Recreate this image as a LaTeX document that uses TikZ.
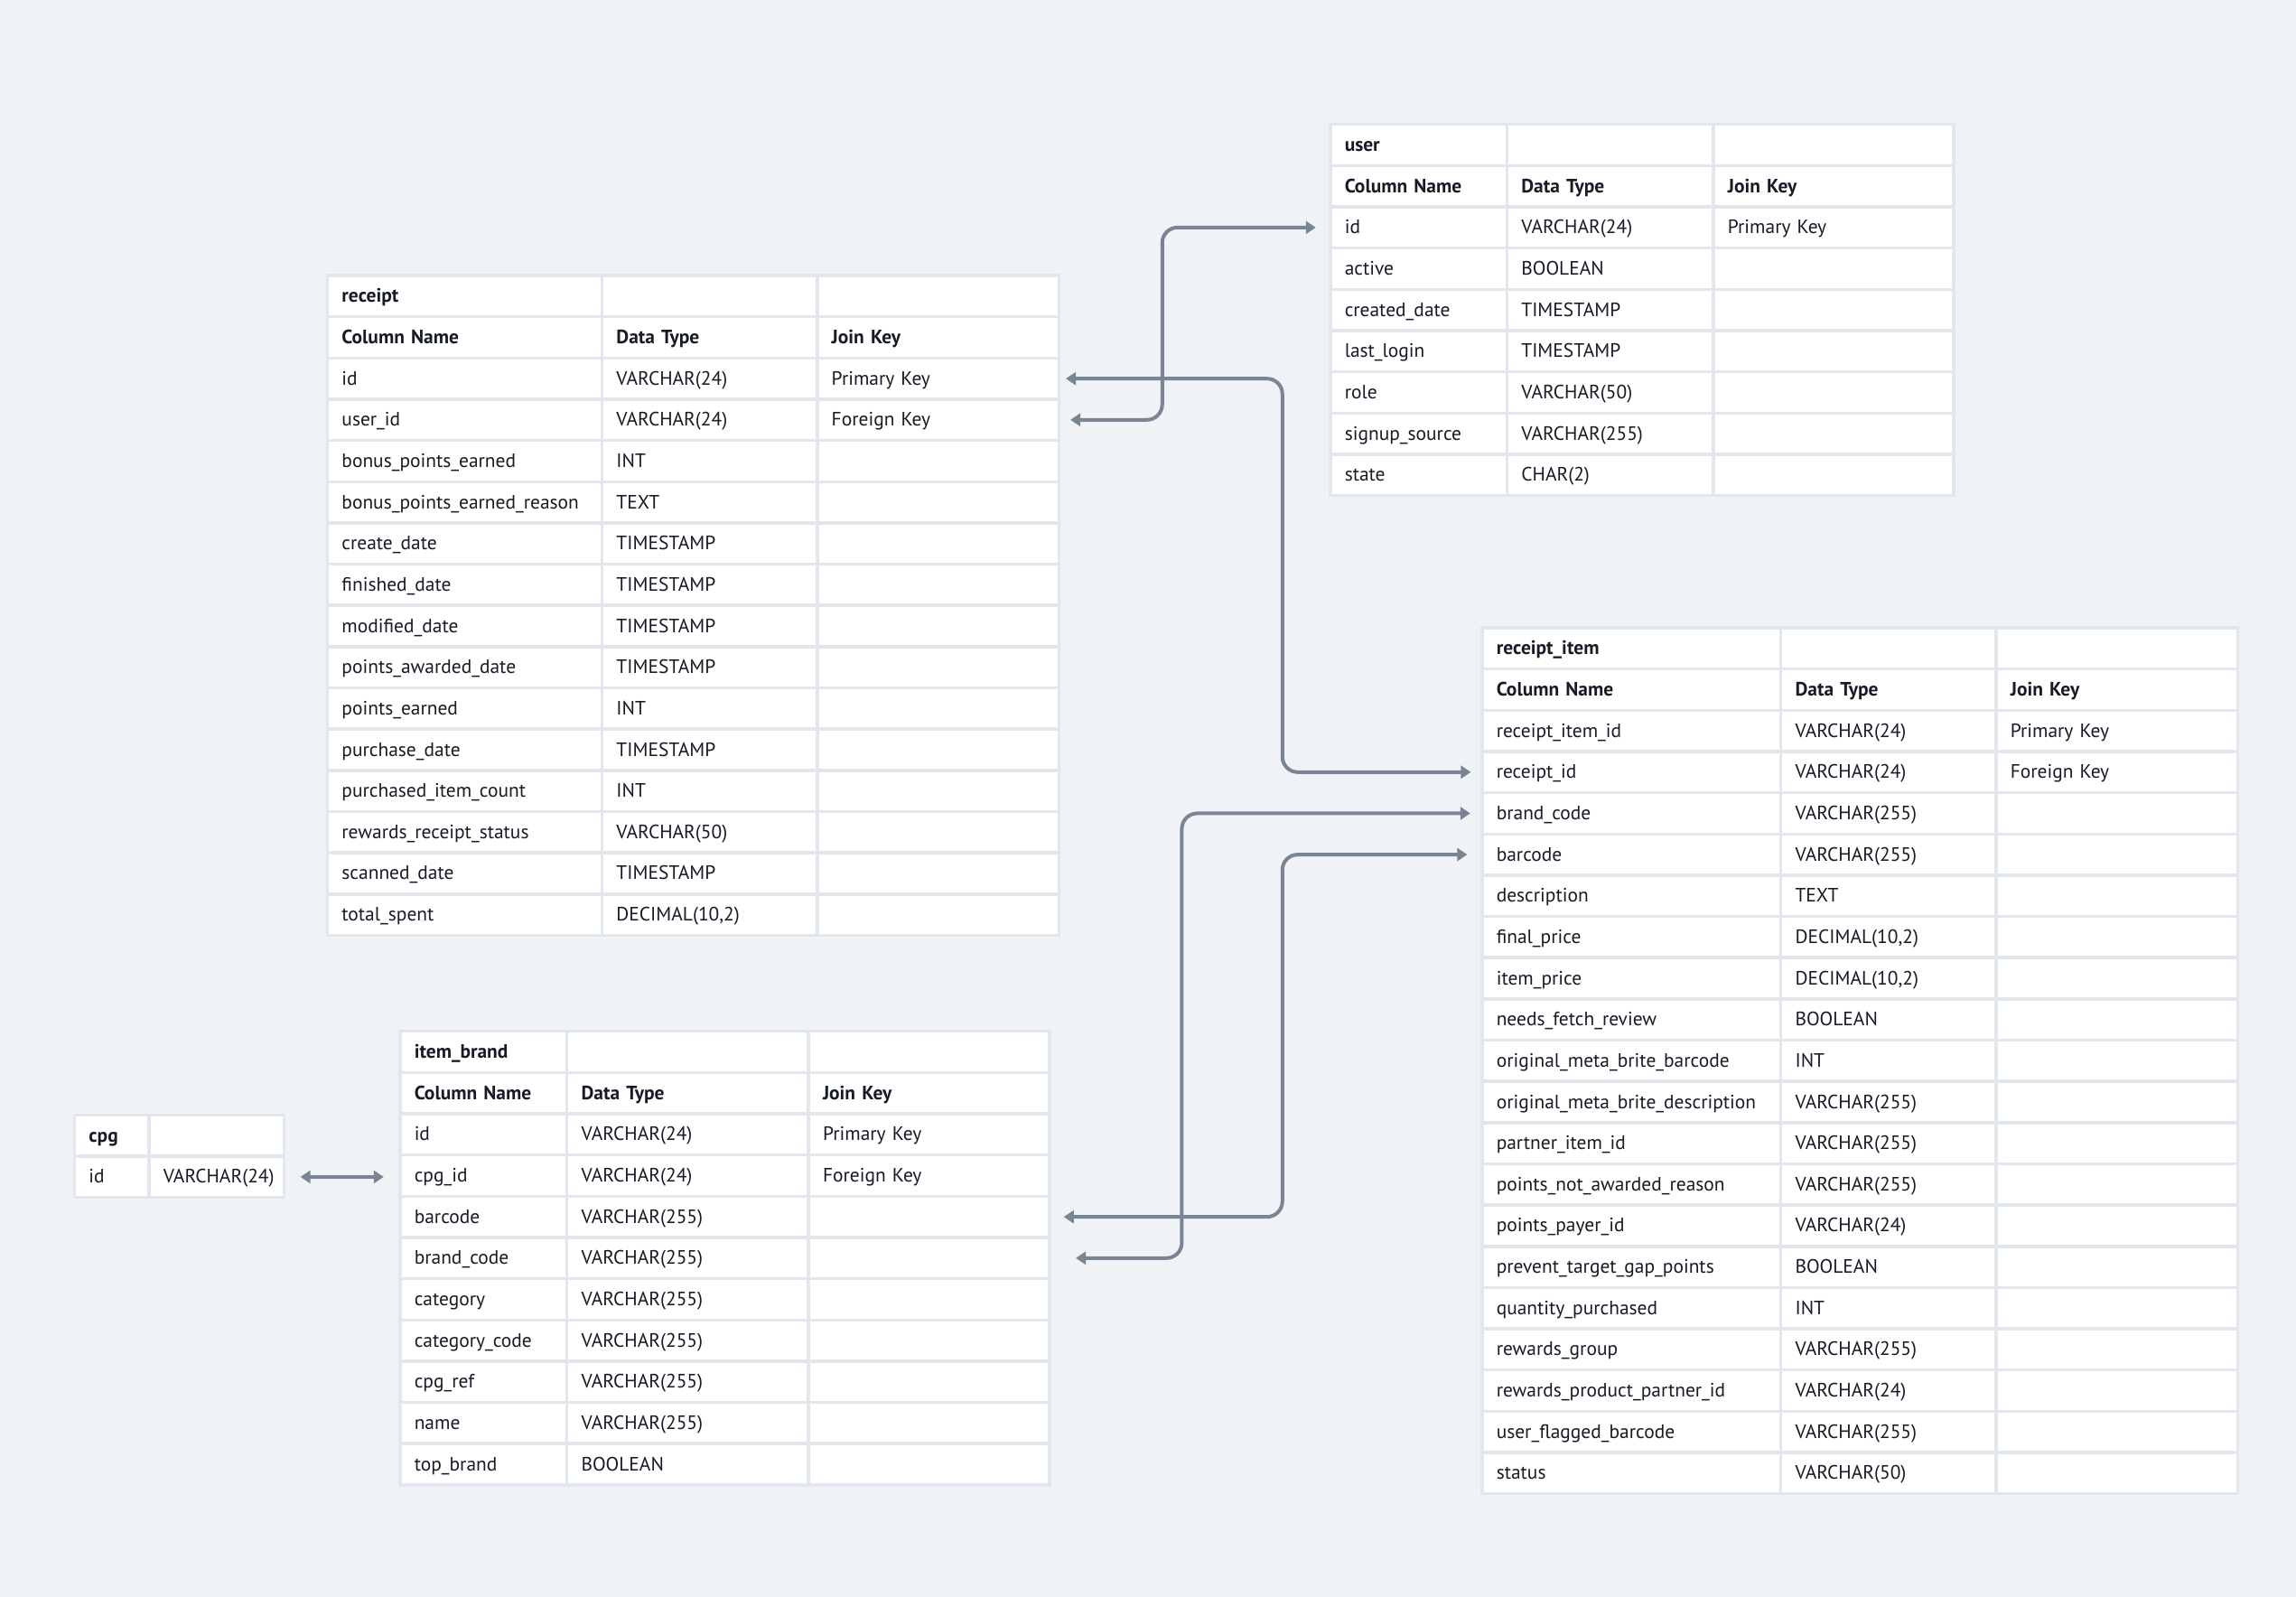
\documentclass[tikz,border=0pt]{standalone}
\usepackage{fontspec}
\setmainfont{PT Sans}
\usetikzlibrary{arrows.meta,matrix,calc}
\definecolor{canvas}{HTML}{F0F3F6}
\definecolor{grid}{HTML}{E2E7EE}
\definecolor{wire}{HTML}{7A8594}
\definecolor{ink}{HTML}{161B26}
\tikzset{
  cell/.style={
    draw=grid, line width=0.035cm, fill=white, text=ink, align=left,
    inner xsep=0.16cm, inner ysep=0pt, outer sep=0pt,
    minimum height=0.4565cm, text height=0.19cm, text depth=0.05cm,
    font=\fontsize{6.1}{7}\selectfont
  },
  head/.style={font=\fontsize{6.1}{7}\selectfont\bfseries},
  tbl/.style={
    matrix of nodes, nodes in empty cells, anchor=north west,
    inner sep=0pt, outer sep=0pt, row sep=-0.035cm, column sep=-0.035cm,
    nodes={cell}, row 1/.style={nodes={head}}, row 2/.style={nodes={head}}
  },
  widths/.style n args={3}{
    column 1/.style={nodes={text width=#1}},
    column 2/.style={nodes={text width=#2}},
    column 3/.style={nodes={text width=#3}}
  },
  link/.style={{Triangle[length=0.11cm,width=0.14cm]}-{Triangle[length=0.11cm,width=0.14cm]},
    line width=0.04cm, wire, rounded corners=0.17cm},
}
\begin{document}
\begin{tikzpicture}
  \path[use as bounding box, fill=canvas] (0,0) rectangle (25.42,-17.68);

  % tables
  \matrix (user) [tbl, widths={1.636cm}{1.966cm}{2.338cm}] at (14.71,-1.36) {
    user & & \\
    Column Name & Data Type & Join Key \\
    id & VARCHAR(24) & Primary Key \\
    active & BOOLEAN & \\
    created\_date & TIMESTAMP & \\
    last\_login & TIMESTAMP & \\
    role & VARCHAR(50) & \\
    signup\_source & VARCHAR(255) & \\
    state & CHAR(2) & \\
  };

  \matrix (receipt) [tbl, widths={2.72cm}{2.063cm}{2.357cm}] at (3.607,-3.033) {
    receipt & & \\
    Column Name & Data Type & Join Key \\
    id & VARCHAR(24) & Primary Key \\
    user\_id & VARCHAR(24) & Foreign Key \\
    bonus\_points\_earned & INT & \\
    bonus\_points\_earned\_reason & TEXT & \\
    create\_date & TIMESTAMP & \\
    finished\_date & TIMESTAMP & \\
    modified\_date & TIMESTAMP & \\
    points\_awarded\_date & TIMESTAMP & \\
    points\_earned & INT & \\
    purchase\_date & TIMESTAMP & \\
    purchased\_item\_count & INT & \\
    rewards\_receipt\_status & VARCHAR(50) & \\
    scanned\_date & TIMESTAMP & \\
    total\_spent & DECIMAL(10,2) & \\
  };

  \matrix (ritem) [tbl, widths={2.988cm}{2.063cm}{2.355cm}] at (16.39,-6.933) {
    receipt\_item & & \\
    Column Name & Data Type & Join Key \\
    receipt\_item\_id & VARCHAR(24) & Primary Key \\
    receipt\_id & VARCHAR(24) & Foreign Key \\
    brand\_code & VARCHAR(255) & \\
    barcode & VARCHAR(255) & \\
    description & TEXT & \\
    final\_price & DECIMAL(10,2) & \\
    item\_price & DECIMAL(10,2) & \\
    needs\_fetch\_review & BOOLEAN & \\
    original\_meta\_brite\_barcode & INT & \\
    original\_meta\_brite\_description & VARCHAR(255) & \\
    partner\_item\_id & VARCHAR(255) & \\
    points\_not\_awarded\_reason & VARCHAR(255) & \\
    points\_payer\_id & VARCHAR(24) & \\
    prevent\_target\_gap\_points & BOOLEAN & \\
    quantity\_purchased & INT & \\
    rewards\_group & VARCHAR(255) & \\
    rewards\_product\_partner\_id & VARCHAR(24) & \\
    user\_flagged\_barcode & VARCHAR(255) & \\
    status & VARCHAR(50) & \\
  };

  \matrix (brand) [tbl, widths={1.528cm}{2.355cm}{2.347cm}] at (4.41,-11.40) {
    item\_brand & & \\
    Column Name & Data Type & Join Key \\
    id & VARCHAR(24) & Primary Key \\
    cpg\_id & VARCHAR(24) & Foreign Key \\
    barcode & VARCHAR(255) & \\
    brand\_code & VARCHAR(255) & \\
    category & VARCHAR(255) & \\
    category\_code & VARCHAR(255) & \\
    cpg\_ref & VARCHAR(255) & \\
    name & VARCHAR(255) & \\
    top\_brand & BOOLEAN & \\
  };

  \matrix (cpg) [tbl, row 2/.style={}, widths={0.503cm}{1.179cm}{1cm}] at (0.807,-12.327) {
    cpg & \\
    id & VARCHAR(24) \\
  };

  % joins
  \draw[link] ([xshift=0.126cm]receipt-4-3.east) -- ++(1.017,0) |- ([xshift=-0.16cm]user-3-1.west);
  \draw[link] ([xshift=0.076cm]receipt-3-3.east) -- ++(2.397,0) |- ([xshift=-0.123cm]ritem-4-1.west);
  \draw[link] ([xshift=0.293cm]brand-6-3.east) -- ++(1.174,0) |- ([xshift=-0.13cm]ritem-5-1.west);
  \draw[link] ([xshift=0.16cm]brand-5-3.east) -- ++(2.42,0) |- ([xshift=-0.163cm]ritem-6-1.west);
  \draw[link] ([xshift=0.18cm]cpg-2-2.east) -- ([xshift=-0.18cm]cpg-2-2.east -| brand-4-1.west);
\end{tikzpicture}
\end{document}
